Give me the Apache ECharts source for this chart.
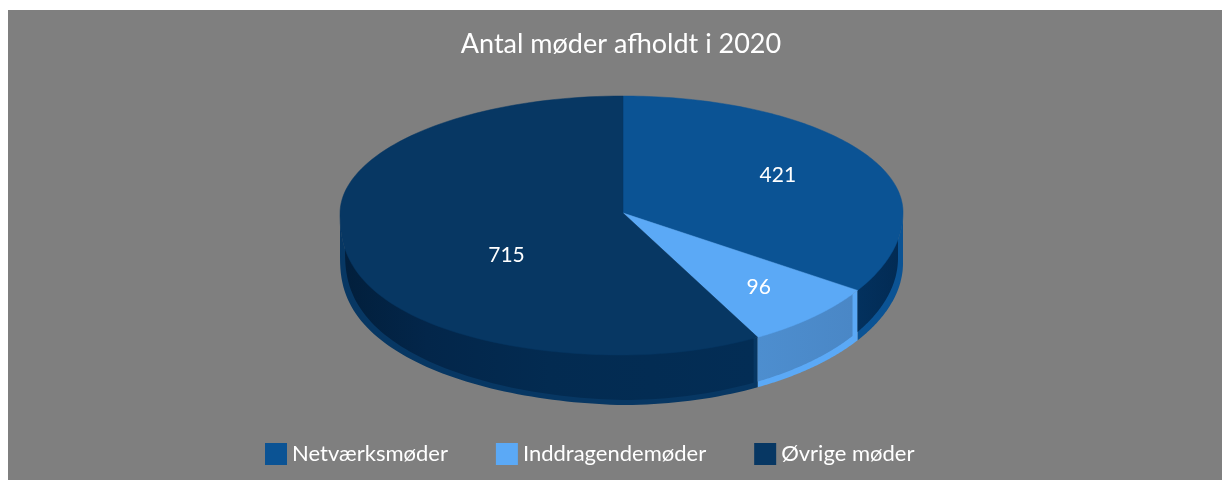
<!DOCTYPE html>
<html>
<head>
<meta charset="utf-8">
<style>
  html, body { margin: 0; padding: 0; background: #fff; }
  #main { width: 1222px; height: 480px; }
</style>
</head>
<body>
<div id="main"></div>
<script src="https://cdn.jsdelivr.net/npm/echarts@6/dist/echarts.min.js"></script>
<script>
  const titleText = 'Antal møder afholdt i 2020';
  const categories = ['Netværksmøder', 'Inddragendemøder', 'Øvrige møder'];
  const meetings = [421, 96, 715];
  const topColors = ['#0b5394', '#5ba9f6', '#073763'];
  // wall panel gradient stops, left to right
  const wallStops = [
    [[0, '#03315e'], [1, '#022b54']],
    [[0, '#4d8ecf'], [1, '#4a87c6']],
    [[0, '#021f3c'], [0.2, '#03264a'], [0.5, '#032b51'], [1, '#032d55']]
  ];
  // where the number sits inside its slice (share of the radius, x and y)
  const labelPlace = [[0.63, 0.68], [0.715, 0.718], [0.422, 0.93]];

  const total = meetings.reduce((a, b) => a + b, 0);
  const cx = 621.5, cy = 213, rx = 281.5, ryTop = 117, ryBottom = 142;
  const apexX = 623;
  const border = 5;

  // tilted disc outline, the left front bulges a bit like the original
  function rimY(t) {
    const c = Math.cos(t);
    if (c > 0) return cy - ryTop * c;
    const k = Math.sin(t) < 0 ? Math.pow(-c, 0.82) : -c;
    return cy + ryBottom * k;
  }
  function rimX(t, r) {
    const lean = Math.cos(t) > 0 ? (apexX - cx) * Math.cos(t) : 0;
    return cx + lean + (r === undefined ? rx : r) * Math.sin(t);
  }
  function wallH(t) {
    return Math.sin(t) < 0 ? 50 + 7 * Math.sin(t) : 50;
  }
  // angle on the front half where the inset curve reaches x
  function frontAngle(x) {
    const s = Math.max(-1, Math.min(1, (x - cx) / (rx - border)));
    return Math.PI - Math.asin(s);
  }

  function drawSlice(index, value, color) {
    let before = 0;
    for (let i = 0; i < index; i++) before += meetings[i];
    const t0 = before / total * Math.PI * 2;
    const t1 = (before + value) / total * Math.PI * 2;
    const children = [];

    // top face
    const top = [[apexX, cy]];
    for (let i = 0; i <= 120; i++) {
      const t = t0 + (t1 - t0) * i / 120;
      top.push([rimX(t), rimY(t)]);
    }
    children.push({
      type: 'polygon', z2: 3,
      shape: { points: top },
      style: { fill: color, stroke: color, lineWidth: 0.5 }
    });

    // front wall
    const a = Math.max(t0, Math.PI / 2), b = Math.min(t1, Math.PI * 1.5);
    if (b > a) {
      const up = [], down = [];
      for (let i = 0; i <= 80; i++) {
        const t = a + (b - a) * i / 80;
        up.push([rimX(t), rimY(t)]);
        down.unshift([rimX(t), rimY(t) + wallH(t)]);
      }
      children.push({
        type: 'polygon', z2: 1,
        shape: { points: up.concat(down) },
        style: { fill: color }
      });

      const pa = t0 > Math.PI / 2 ? frontAngle(rimX(a) - (index === 1 ? border : 4)) : a;
      const pb = b < Math.PI * 1.5 ? frontAngle(rimX(b)) : b;
      const upIn = [], downIn = [];
      for (let i = 0; i <= 80; i++) {
        const t = pa + (pb - pa) * i / 80;
        const x = rimX(t, rx - border);
        upIn.push([x, rimY(t) - 6]);
        downIn.unshift([x, rimY(t) + wallH(t) - border]);
      }
      const xs = upIn.map(p => p[0]);
      const left = Math.min.apply(null, xs), right = Math.max.apply(null, xs);
      children.push({
        type: 'polygon', z2: 2,
        shape: { points: upIn.concat(downIn) },
        style: {
          fill: new echarts.graphic.LinearGradient(left, 0, right, 0,
            wallStops[index].map(s => ({ offset: s[0], color: s[1] })), true)
        }
      });
    }

    // value label
    const mid = (t0 + t1) / 2;
    children.push({
      type: 'text', z2: 4,
      style: {
        x: cx + (rimX(mid) - cx) * labelPlace[index][0],
        y: cy + (rimY(mid) - cy) * labelPlace[index][1],
        text: String(value),
        fill: '#ffffff',
        font: '21px Lato',
        align: 'center',
        verticalAlign: 'middle'
      }
    });
    return { type: 'group', children: children };
  }

  const myChart = echarts.init(document.getElementById('main'), null, { renderer: 'canvas' });
  const option = {
    animation: false,
    backgroundColor: '#ffffff',
    graphic: [{
      type: 'rect', z: -10,
      shape: { x: 8, y: 10, width: 1214, height: 470 },
      style: { fill: '#7f7f7f' }
    }],
    title: {
      text: titleText,
      left: 616, top: 26, textAlign: 'center',
      textStyle: { color: '#ffffff', fontFamily: 'Lato', fontSize: 27, fontWeight: 'normal' }
    },
    legend: {
      left: 265, top: 443,
      padding: 0,
      icon: 'rect',
      itemWidth: 22, itemHeight: 22, itemGap: 48,
      data: categories,
      textStyle: { color: '#ffffff', fontFamily: 'Lato', fontSize: 22 }
    },
    series: categories.map((name, idx) => ({
      type: 'custom',
      name: name,
      coordinateSystem: 'none',
      silent: true,
      itemStyle: { color: topColors[idx] },
      data: [meetings[idx]],
      renderItem: function (params, api) {
        return drawSlice(idx, api.value(0), topColors[idx]);
      }
    }))
  };
  myChart.setOption(option);
</script>
</body>
</html>
